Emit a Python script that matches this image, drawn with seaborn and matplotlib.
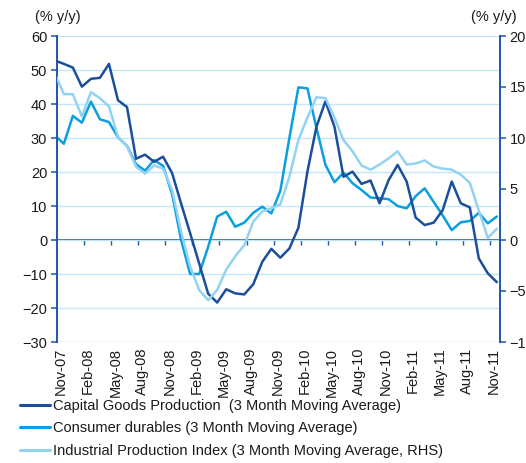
import numpy as np
import pandas as pd
import matplotlib
matplotlib.use("Agg")
import matplotlib.pyplot as plt
from matplotlib.lines import Line2D
import seaborn as sns

# ---------------- data (Oct-07 .. Nov-11, monthly) ----------------
capital = [52.8, 51.8, 50.7, 45.1, 47.4, 47.7, 51.8, 41.1, 39.1, 23.9,
           25.1, 23.0, 24.5, 19.7, 10.7, 2.0, -6.9, -15.8, -18.4, -14.5,
           -15.7, -16.0, -13.0, -6.4, -2.6, -5.2, -2.5, 3.6, 20.1, 33.3,
           40.8, 33.3, 18.6, 20.1, 16.5, 17.5, 10.8, 17.6, 22.1, 17.2,
           6.6, 4.4, 5.1, 8.8, 17.2, 10.8, 9.6, -5.4, -9.8, -12.4]
consumer = [30.7, 28.3, 36.5, 34.5, 40.7, 35.5, 34.7, 30.2, 27.7, 22.3,
            20.4, 23.5, 21.8, 13.5, 0.0, -10.0, -10.0, -2.0, 6.9, 8.3,
            3.9, 5.1, 8.0, 9.8, 7.8, 14.5, 30.0, 44.9, 44.6, 33.0,
            22.1, 17.0, 19.8, 16.7, 14.7, 12.5, 12.3, 12.0, 10.0, 9.3,
            12.9, 15.2, 11.2, 7.2, 2.9, 5.2, 5.6, 8.0, 4.9, 6.9]
ipi = [16.3, 14.3, 14.3, 12.1, 14.5, 13.9, 13.1, 10.1, 9.2, 7.2,
       6.5, 7.3, 7.0, 4.9, 0.8, -2.6, -4.9, -5.9, -4.9, -2.9,
       -1.6, -0.5, 1.8, 2.8, 3.1, 3.5, 6.2, 9.8, 12.0, 14.0,
       13.9, 12.0, 9.8, 8.7, 7.3, 6.9, 7.4, 8.0, 8.7, 7.4,
       7.5, 7.8, 7.2, 7.0, 6.9, 6.4, 5.6, 2.9, 0.2, 1.1]
tick_labels = ["Nov-07", "Feb-08", "May-08", "Aug-08", "Nov-08", "Feb-09",
               "May-09", "Aug-09", "Nov-09", "Feb-10", "May-10", "Aug-10",
               "Nov-10", "Feb-11", "May-11", "Aug-11", "Nov-11"]
series_names = ["Capital Goods Production  (3 Month Moving Average)",
                "Consumer durables (3 Month Moving Average)",
                "Industrial Production Index (3 Month Moving Average, RHS)"]

# ---------------- style ----------------
sns.set_style("white")
plt.rcParams["font.family"] = ["Liberation Sans", "DejaVu Sans"]
FS = 10.5
plt.rcParams["font.size"] = FS

DARK = "#1b4f9c"
MED = "#0a9fe0"
LIGHT = "#93d3f2"
GRID = "#c3e7f8"
AXIS = "#1f55a8"
TXT = "#1a1a1a"

df = pd.DataFrame({"x": np.arange(len(capital)), "capital": capital,
                   "consumer": consumer, "ipi": ipi})

fig = plt.figure(figsize=(5.26, 4.63), dpi=100)
W, H = 526, 463
ax = fig.add_axes([57 / W, 1 - 342 / H, (500 - 57) / W, (342 - 36) / H])
ax2 = ax.twinx()

lw = 1.8
sns.lineplot(data=df, x="x", y="capital", ax=ax, color=DARK, lw=lw, zorder=3)
sns.lineplot(data=df, x="x", y="consumer", ax=ax, color=MED, lw=lw, zorder=2)
sns.lineplot(data=df, x="x", y="ipi", ax=ax2, color=LIGHT, lw=lw, zorder=1)

ax.set_xlim(0.24, 49.35)
ax.set_ylim(-30, 60)
ax2.set_ylim(-10, 20)
ax.set_yticks(np.arange(-30, 61, 10))
ax2.set_yticks(np.arange(-10, 21, 5))
ax.set_xlabel("")
ax.set_ylabel("")
ax2.set_ylabel("")

# gridlines
ax.grid(axis="y", color=GRID, lw=1.0)
ax.grid(axis="x", visible=False)
ax2.grid(False)

# x tick labels at the bottom
label_pos = np.arange(1, len(capital), 3) - 0.3
ax.set_xticks(label_pos)
ax.set_xticklabels(tick_labels, rotation=90, color=TXT, fontsize=FS)
ax.tick_params(axis="x", length=0, pad=4)

# spines
for a in (ax, ax2):
    a.spines["top"].set_visible(False)
    a.spines["bottom"].set_visible(False)
ax.spines["left"].set_color(AXIS)
ax.spines["left"].set_linewidth(1.4)
ax2.spines["left"].set_visible(False)
ax2.spines["right"].set_color(AXIS)
ax2.spines["right"].set_linewidth(1.4)
ax.spines["right"].set_visible(False)

ax.tick_params(axis="y", direction="out", length=4, width=1.1, color=AXIS,
               labelcolor=TXT, pad=3, labelsize=FS)
ax2.tick_params(axis="y", direction="out", length=4, width=1.1, color=AXIS,
                labelcolor=TXT, pad=3, labelsize=FS)

# zero-line category axis with tick marks
sec = ax.secondary_xaxis(30 / 90)
sec.spines["bottom"].set_color(AXIS)
sec.spines["bottom"].set_linewidth(1.3)
sec.set_xticks(np.arange(3, len(capital), 3) + 0.25)
sec.set_xticklabels([])
sec.tick_params(axis="x", direction="out", length=3.5, width=1.0, color=AXIS)

# unit labels
fig.text(58 / W, 1 - 17 / H, "(% y/y)", ha="center", va="center", color=TXT,
         fontsize=FS)
fig.text(494 / W, 1 - 17 / H, "(% y/y)", ha="center", va="center", color=TXT,
         fontsize=FS)

# legend
handles = [Line2D([], [], color=c, lw=2.2) for c in (DARK, MED, LIGHT)]
fig.legend(handles, series_names, loc="upper left",
           bbox_to_anchor=(20 / W, 1 - 399 / H), frameon=False,
           fontsize=FS, handlelength=2.05, handletextpad=0.22,
           labelspacing=0.58, borderpad=0, borderaxespad=0,
           labelcolor=TXT)

fig.savefig("out.png", dpi=100)
